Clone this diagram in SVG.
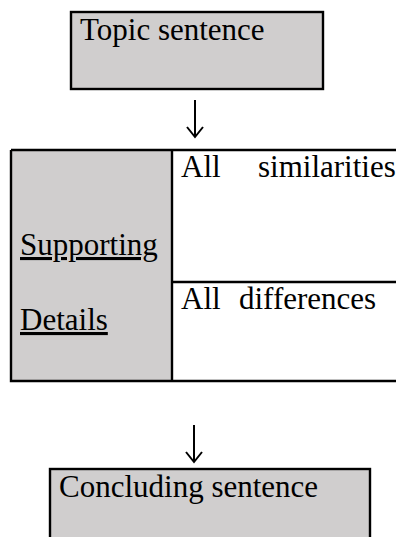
<svg xmlns="http://www.w3.org/2000/svg" width="396" height="537" viewBox="0 0 396 537">
<style>
.box{fill:#d0cece;stroke:#000;stroke-width:2.4}
.ln{stroke:#000;stroke-width:2.4;fill:none}
.t{font-family:"Liberation Serif","Times New Roman",serif;font-size:31px;fill:#000}
.u{text-decoration:underline}
.arr{stroke:#000;stroke-width:2;fill:none}
</style>
<rect width="396" height="537" fill="#fff"/>
<g id="topic">
<rect class="box" x="71" y="12" width="252" height="77"/>
<text class="t" x="80" y="40">Topic sentence</text>
</g>
<g id="supporting">
<rect x="11" y="150" width="161" height="231" fill="#d0cece"/>
<path class="ln" d="M11,150 H398 M11,150 V381 H398 M172,150 V381 M172,282 H398"/>
<text class="t u" x="20" y="255">Supporting</text>
<text class="t u" x="20" y="330">Details</text>
</g>
<g id="similarities">
<text class="t" x="181" y="177">All</text>
<text class="t" x="258" y="177">similarities</text>
</g>
<g id="differences">
<text class="t" x="181" y="309">All</text>
<text class="t" x="239" y="309">differences</text>
</g>
<g id="concluding">
<rect class="box" x="50" y="469" width="320" height="80"/>
<text class="t" x="59" y="497">Concluding sentence</text>
</g>
<g id="connectors">
<path class="arr" d="M195,100 V137 M187,127 L195,137 L203,127"/>
<path class="arr" d="M194,425 V462 M186,452 L194,462 L202,452"/>
</g>
</svg>
